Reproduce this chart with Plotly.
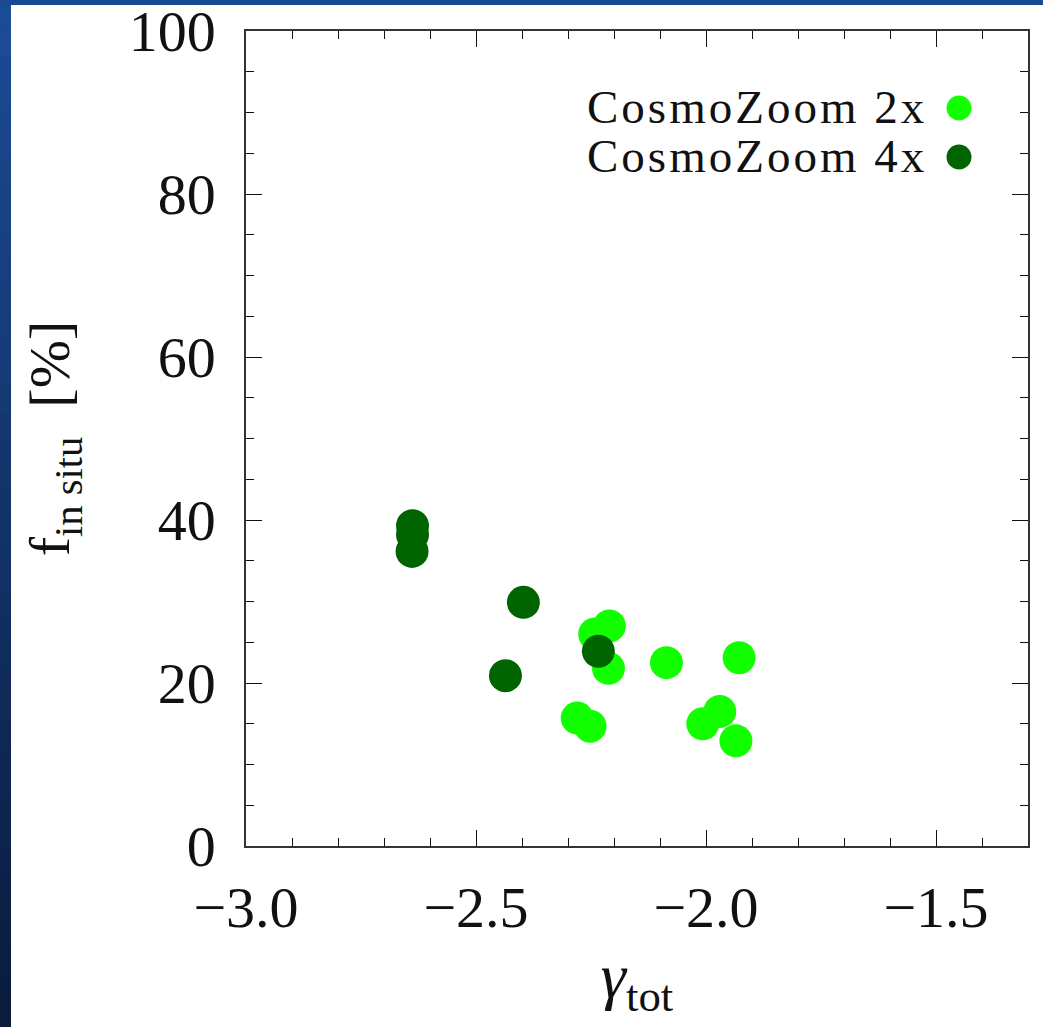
import plotly.graph_objects as go

# ---- data ----
cz2_gamma = [-2.210, -2.242, -2.212, -2.086, -1.928, -2.280, -2.252, -1.970, -2.007, -1.935]
cz2_fsitu = [27.0, 26.0, 21.8, 22.5, 23.1, 15.7, 14.7, 16.5, 15.0, 12.9]
cz4_gamma = [-2.638, -2.638, -2.639, -2.397, -2.436, -2.234]
cz4_fsitu = [39.3, 38.2, 36.15, 29.9, 20.9, 23.9]

series_names = ["CosmoZoom 2x", "CosmoZoom 4x"]
series_colors = ["#12ff00", "#006400"]

x_range = [-3.0, -1.3]
y_range = [0, 100]

# ---- layout geometry ----
W, H = 1043, 1027
ML, MR, MT, MB = 246, 15, 31, 181
PW = W - ML - MR
PH = H - MT - MB


def px2paper_x(px):
    return (px - ML) / PW


def px2paper_y(py):
    return (H - MB - py) / PH


FONT = "Liberation Serif"

fig = go.Figure()
fig.add_trace(go.Scatter(x=cz2_gamma, y=cz2_fsitu, mode="markers", name=series_names[0],
                         marker=dict(color=series_colors[0], size=33, line=dict(width=0)),
                         showlegend=False))
fig.add_trace(go.Scatter(x=cz4_gamma, y=cz4_fsitu, mode="markers", name=series_names[1],
                         marker=dict(color=series_colors[1], size=33, line=dict(width=0)),
                         showlegend=False))

axis_common = dict(
    showline=True, linecolor="#333", linewidth=1.5, mirror="allticks",
    ticks="inside", ticklen=16, tickwidth=1.3, tickcolor="#111",
    showgrid=False, zeroline=False, ticklabeloverflow="allow",
    tickfont=dict(family=FONT, size=58, color="#111"),
)

fig.update_xaxes(
    range=x_range, tick0=-3.0, dtick=0.5, tickformat=".1f",
    minor=dict(dtick=0.1, ticks="inside", ticklen=8, tickwidth=1.3, tickcolor="#111", showgrid=False),
    ticklabelstandoff=10,
    title=dict(text="<i>γ</i><sub>tot</sub>", font=dict(family=FONT, size=64, color="#111"), standoff=6),
    **axis_common,
)
fig.update_yaxes(
    range=y_range, tick0=0, dtick=20,
    minor=dict(dtick=5, ticks="inside", ticklen=8, tickwidth=1.3, tickcolor="#111", showgrid=False),
    ticklabelstandoff=17,
    title=dict(text="f<sub>in situ</sub>  [%]", font=dict(family=FONT, size=58, color="#111"), standoff=40),
    **axis_common,
)

shapes = []
# decorative slide background: top and left blue strips
shapes.append(dict(type="rect", xref="paper", yref="paper", layer="above",
                   x0=px2paper_x(0), x1=px2paper_x(W), y0=px2paper_y(0), y1=px2paper_y(5),
                   fillcolor="#1b4a94", line=dict(width=0)))
nseg = 40
c_top = (0x1c, 0x4b, 0x96)
c_bot = (0x0a, 0x1b, 0x3c)
for i in range(nseg):
    t = i / (nseg - 1)
    c = tuple(int(round(c_top[k] + (c_bot[k] - c_top[k]) * t)) for k in range(3))
    y0p = 5 + (H - 5) * i / nseg
    y1p = 5 + (H - 5) * (i + 1) / nseg + 1
    shapes.append(dict(type="rect", xref="paper", yref="paper", layer="above",
                       x0=px2paper_x(0), x1=px2paper_x(11), y0=px2paper_y(y0p), y1=px2paper_y(y1p),
                       fillcolor="rgb(%d,%d,%d)" % c, line=dict(width=0)))

annotations = []
legend_rows_y = [107, 156]
for name, color, ly in zip(series_names, series_colors, legend_rows_y):
    annotations.append(dict(text='<span style="letter-spacing:3px">%s</span>' % name,
                            xref="paper", yref="paper", x=px2paper_x(929), y=px2paper_y(ly),
                            xanchor="right", yanchor="middle", showarrow=False,
                            font=dict(family=FONT, size=47, color="#111")))
    shapes.append(dict(type="circle", xref="paper", yref="paper", xsizemode="pixel", ysizemode="pixel",
                       xanchor=px2paper_x(959), yanchor=px2paper_y(ly + 1),
                       x0=-12.5, x1=12.5, y0=-12.5, y1=12.5,
                       fillcolor=color, line=dict(width=0)))

fig.update_layout(
    width=W, height=H,
    margin=dict(l=ML, r=MR, t=MT, b=MB, autoexpand=False),
    paper_bgcolor="white", plot_bgcolor="white",
    shapes=shapes, annotations=annotations,
    showlegend=False,
)

fig.write_html("out.html", config={"displayModeBar": False},
               post_script="document.body.style.margin='0';")
